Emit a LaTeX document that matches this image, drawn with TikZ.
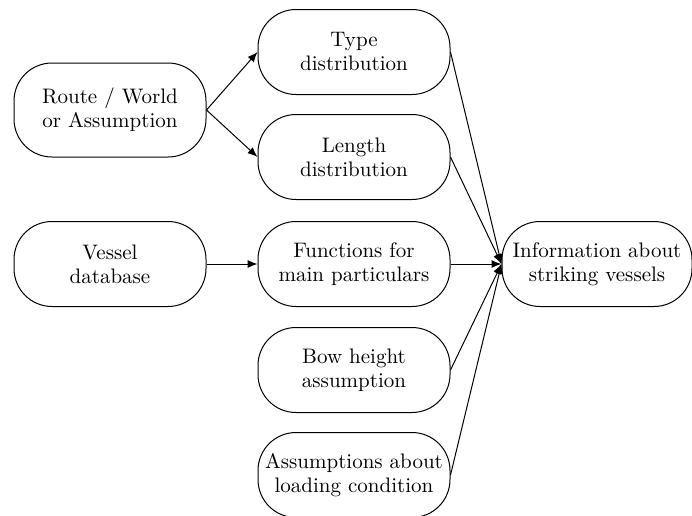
\documentclass[tikz,border=0pt]{standalone}
\usetikzlibrary{arrows.meta}

\begin{document}
\begin{tikzpicture}[
  x=0.5pt, y=-0.5pt,
  every node/.style={inner sep=1pt},
  blk/.style={draw, line width=0.5pt, rounded corners=19pt, align=center,
    minimum width=96pt, minimum height=42.5pt, inner sep=0pt,
    font=\fontsize{10.5pt}{12pt}\selectfont},
  arrow/.style={draw, line width=0.5pt, -{Latex[length=5pt,width=4pt]}}]

  \useasboundingbox (0,0) rectangle (692,515);

  % --- left column: sources ---
  \node[blk, minimum height=47pt] (route) at (110,110) {Route / World\\or Assumption};
  \node[blk] (vessel) at (110,264) {Vessel\\database};

  % --- middle column ---
  \node[blk] (type)   at (354,52)  {Type\\distribution};
  \node[blk] (length) at (354,157) {Length\\distribution};
  \node[blk] (func)   at (354,264) {Functions for\\main particulars};
  \node[blk] (bow)    at (354,370) {Bow height\\assumption};
  \node[blk] (assum)  at (354,475) {Assumptions about\\loading condition};

  % --- result ---
  \node[blk, minimum width=95pt] (info) at (597,264) {Information about\\striking vessels};

  % --- connectors ---
  \draw[arrow] (route.east) -- (type.west);
  \draw[arrow] (route.east) -- (length.west);
  \draw[arrow] (vessel) -- (func);
  \draw[arrow] (type.east) -- (info.west);
  \draw[arrow] (length.east) -- (info.west);
  \draw[arrow] (func) -- (info);
  \draw[arrow] (bow.east) -- (info.west);
  \draw[arrow] (assum.east) -- (info.west);

\end{tikzpicture}
\end{document}
